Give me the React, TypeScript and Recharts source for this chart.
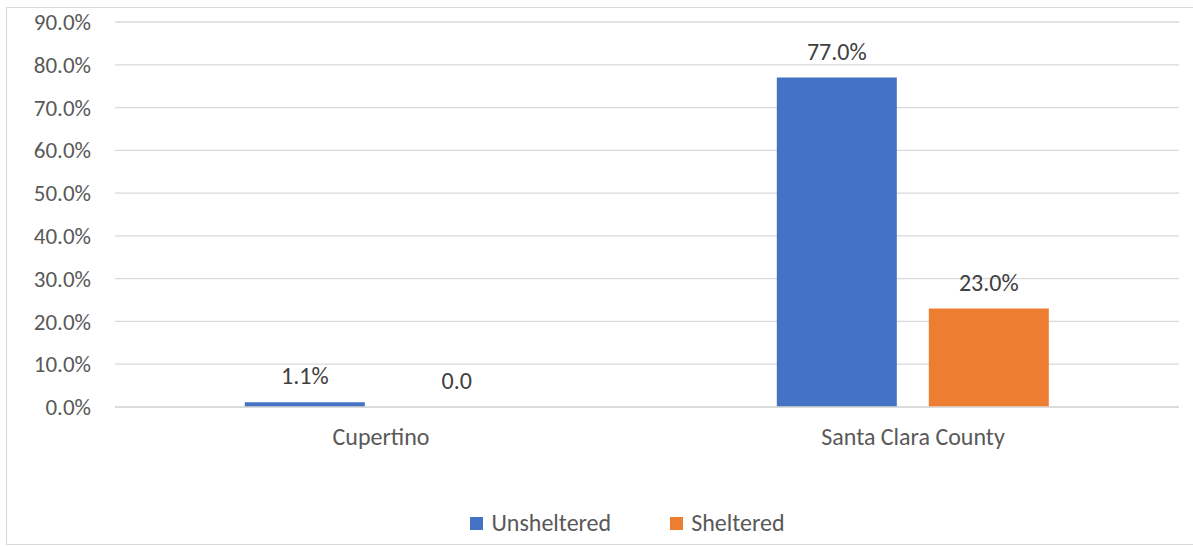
import React from "react";
import { BarChart, Bar, XAxis, YAxis, CartesianGrid, Legend, LabelList } from "recharts";

const categories = ["Cupertino", "Santa Clara County"];
const unsheltered = [1.1, 77.0];
const sheltered = [0, 23.0];
const unshelteredLabels = ["1.1%", "77.0%"];
const shelteredLabels = ["0.0", "23.0%"];
const yTicks = [0, 10, 20, 30, 40, 50, 60, 70, 80, 90];

const data = categories.map((c, i) => ({
  name: c,
  unsheltered: unsheltered[i],
  sheltered: sheltered[i],
  uLabel: unshelteredLabels[i],
  sLabel: shelteredLabels[i],
}));

const FONT = "Carlito, Calibri, Lato, sans-serif";
const BLUE = "#4472C4";
const ORANGE = "#ED7D31";

const renderLegend = () => (
  <div style={{ display: "flex", justifyContent: "center", alignItems: "center", height: 30, lineHeight: "30px", paddingLeft: 76, fontFamily: FONT, fontSize: 24, color: "#595959" }}>
    {[
      { n: "Unsheltered", c: BLUE },
      { n: "Sheltered", c: ORANGE },
    ].map((it, i) => (
      <div key={it.n} style={{ display: "flex", alignItems: "center", marginLeft: i ? 59 : 0 }}>
        <span style={{ width: 13, height: 13, background: it.c, display: "inline-block", marginRight: 8 }} />
        <span>{it.n}</span>
      </div>
    ))}
  </div>
);

const makeLabel = (labels: string[]) => (props: any) => {
  const { x, y, width, index } = props;
  if (x == null || y == null) return null;
  return (
    <text
      x={Number(x) + Number(width) / 2}
      y={Number(y) - 18}
      textAnchor="middle"
      fill="#404040"
      fontSize={24}
      fontFamily={FONT}
    >
      {labels[index]}
    </text>
  );
};

export default function App() {
  return (
    <div style={{ position: "absolute", left: 0, top: 0, width: 1193, height: 546, background: "#fff", overflow: "hidden" }}>
      <div style={{ position: "absolute", left: 6, top: 7, width: 1200, height: 538, border: "1px solid #d9d9d9", boxSizing: "border-box" }} />
      <BarChart
        width={1193}
        height={546}
        data={data}
        margin={{ top: 22, right: 14, left: 0, bottom: 8 }}
        barCategoryGap="24.4%"
        barGap={32}
      >
        <CartesianGrid horizontal vertical={false} stroke="#d9d9d9" strokeWidth={1.3} />
        <XAxis
          dataKey="name"
          axisLine={{ stroke: "#d9d9d9", strokeWidth: 1.3 }}
          tickLine={false}
          tick={{ fill: "#595959", fontSize: 24, fontFamily: FONT }}
          tickMargin={15}
          height={101}
        />
        <YAxis
          domain={[0, 90]}
          ticks={yTicks}
          tickFormatter={(v: number) => `${v.toFixed(1)}%`}
          axisLine={false}
          tickLine={false}
          width={115}
          tickMargin={18}
          tick={{ fill: "#595959", fontSize: 23, fontFamily: FONT }}
        />
        <Legend verticalAlign="bottom" height={30} content={renderLegend} />
        <Bar dataKey="unsheltered" fill={BLUE} isAnimationActive={false}>
          <LabelList dataKey="uLabel" content={makeLabel(unshelteredLabels)} />
        </Bar>
        <Bar
          dataKey="sheltered"
          fill={ORANGE}
          isAnimationActive={false}
          minPointSize={(v: number) => (v === 0 ? 0.001 : 0)}
        >
          <LabelList dataKey="sLabel" content={makeLabel(shelteredLabels)} />
        </Bar>
      </BarChart>
    </div>
  );
}
